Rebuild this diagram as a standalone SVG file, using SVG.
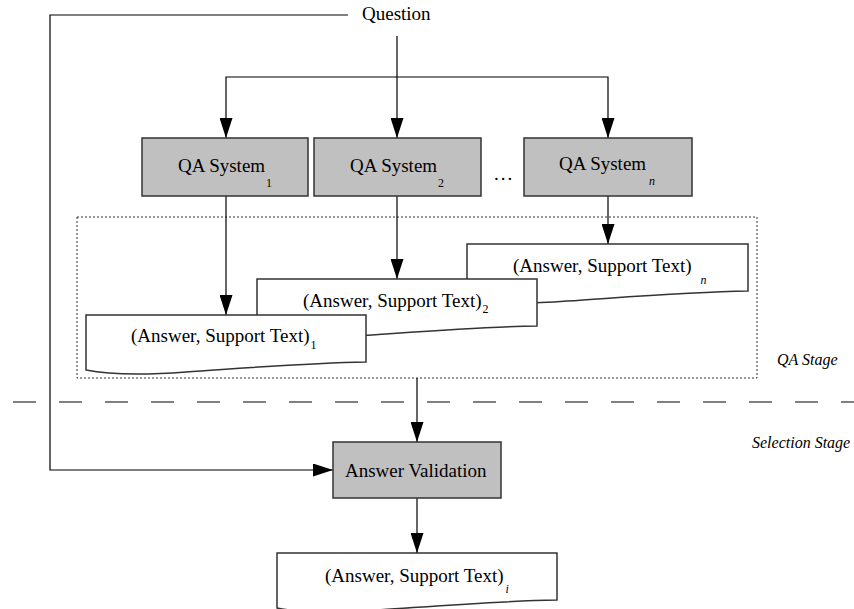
<svg xmlns="http://www.w3.org/2000/svg" width="854" height="609" viewBox="0 0 854 609" font-family="'Liberation Serif', 'DejaVu Serif', serif">
<style>
  text { font-family: "Liberation Serif", "DejaVu Serif", serif; fill: #000; }
  .lbl { font-size: 19px; }
  .sub { font-size: 12px; }
  .subi { font-size: 12px; font-style: italic; }
  .stage { font-size: 16px; font-style: italic; }
  .box { fill: #c0c0c0; stroke: #333; stroke-width: 1.5; }
  .doc { fill: #fff; stroke: #333; stroke-width: 1.5; }
  .conn { fill: none; stroke: #000; stroke-width: 1.2; }
</style>
<defs>
  <marker id="arr" markerUnits="userSpaceOnUse" markerWidth="20" markerHeight="13" refX="20" refY="6.5" orient="auto">
    <path d="M0,0 L20,6.5 L0,13 z" fill="#000"/>
  </marker>
</defs>
<rect width="854" height="609" fill="#fff"/>

<g id="qa-stage-frame">
  <rect x="77" y="217" width="680" height="161" fill="none" stroke="#333" stroke-width="1" stroke-dasharray="2,2"/>
  <text class="stage" x="777" y="365">QA Stage</text>
</g>
<g id="stage-divider">
  <line x1="13" y1="402" x2="854" y2="402" stroke="#808080" stroke-width="2" stroke-dasharray="23,23"/>
  <text class="stage" x="752" y="448">Selection Stage</text>
</g>

<g id="connectors">
  <path class="conn" d="M348,15 H50 V470 H333" marker-end="url(#arr)"/>
  <path class="conn" d="M397,36 V138" marker-end="url(#arr)"/>
  <path class="conn" d="M397,77 H226 V138" marker-end="url(#arr)"/>
  <path class="conn" d="M397,77 H608 V138" marker-end="url(#arr)"/>
  <path class="conn" d="M226,196 V315" marker-end="url(#arr)"/>
  <path class="conn" d="M397,196 V279" marker-end="url(#arr)"/>
  <path class="conn" d="M608,196 V244" marker-end="url(#arr)"/>
  <path class="conn" d="M417,378 V442" marker-end="url(#arr)"/>
  <path class="conn" d="M417,498 V553" marker-end="url(#arr)"/>
</g>

<g id="question">
  <text class="lbl" x="362" y="20">Question</text>
</g>

<g id="qa-system-1">
  <rect class="box" x="142" y="138" width="166" height="58"/>
  <text class="lbl" x="178" y="172">QA System<tspan class="sub" dx="1" dy="15">1</tspan></text>
</g>
<g id="qa-system-2">
  <rect class="box" x="314" y="138" width="167" height="58"/>
  <text class="lbl" x="350" y="172">QA System<tspan class="sub" dx="1" dy="15">2</tspan></text>
</g>
<g id="ellipsis">
  <text class="lbl" x="494" y="180" font-size="20" letter-spacing="2">...</text>
</g>
<g id="qa-system-n">
  <rect class="box" x="524" y="138" width="168" height="58"/>
  <text class="lbl" x="559" y="170">QA System<tspan class="subi" dx="3" dy="15">n</tspan></text>
</g>

<g id="answer-n">
  <path class="doc" d="M467,244 H748 V291 C688,292 628,297 567,301 C527,304 492,304 467,299 Z"/>
  <text class="lbl" x="513" y="272">(Answer, Support Text)<tspan class="subi" dx="9" dy="12">n</tspan></text>
</g>
<g id="answer-2">
  <path class="doc" d="M257,279 H537 V326 C477,327 417,332 357,336 C317,339 282,339 257,334 Z"/>
  <text class="lbl" x="303" y="307">(Answer, Support Text)<tspan class="sub" dx="1" dy="6">2</tspan></text>
</g>
<g id="answer-1">
  <path class="doc" d="M86,315 H366 V362 C306,363 246,368 186,372 C146,375 111,375 86,370 Z"/>
  <text class="lbl" x="131" y="342">(Answer, Support Text)<tspan class="sub" dx="1" dy="7">1</tspan></text>
</g>

<g id="answer-validation">
  <rect class="box" x="333" y="442" width="168" height="56"/>
  <text class="lbl" x="345" y="477">Answer Validation</text>
</g>

<g id="answer-i">
  <path class="doc" d="M277,553 H557 V600 C497,601 437,606 377,610 C337,613 302,613 277,608 Z"/>
  <text class="lbl" x="325" y="582">(Answer, Support Text)<tspan class="subi" dx="2" dy="11">i</tspan></text>
</g>
</svg>
